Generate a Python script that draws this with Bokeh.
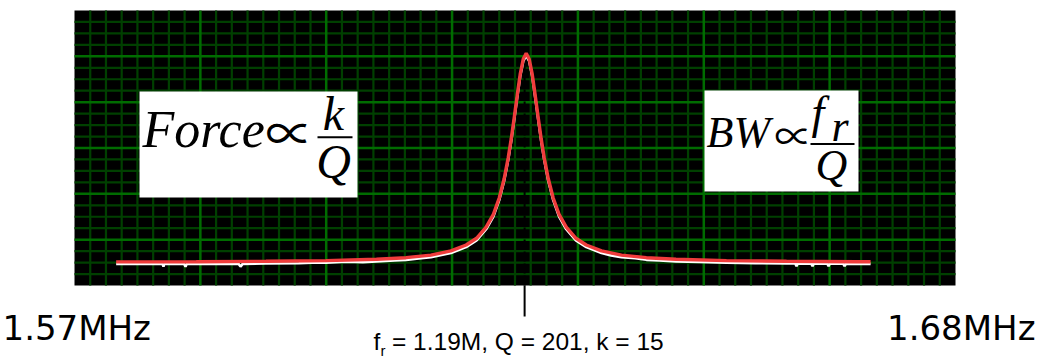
from bokeh.plotting import figure
from bokeh.models import Range1d, Label, BoxAnnotation
from bokeh.embed import file_html
from bokeh.resources import INLINE

# ---------------- data ----------------
# frequency axis in MHz, amplitude in screen divisions (0..6)
fit_freq_mhz = [1.5752, 1.5852, 1.5939, 1.6014, 1.6077, 1.6114, 1.6145, 1.6170, 1.6189,
                1.6202, 1.6214, 1.6223, 1.62303, 1.62365, 1.62415, 1.62453, 1.62490,
                1.62528, 1.62565, 1.62603, 1.6264, 1.62677, 1.62715, 1.62752, 1.62790,
                1.62827, 1.62865, 1.62915, 1.62977, 1.6305, 1.6314, 1.6326, 1.6339,
                1.6358, 1.6383, 1.6414, 1.6451, 1.6514, 1.6589, 1.6676, 1.6694]
fit_amp = [0.515, 0.519, 0.528, 0.543, 0.572, 0.607, 0.663, 0.755, 0.884,
           1.030, 1.274, 1.551, 1.909, 2.335, 2.786, 3.199, 3.663,
           4.154, 4.610, 4.942, 5.066, 4.942, 4.610, 4.154, 3.663,
           3.199, 2.786, 2.335, 1.909, 1.551, 1.274, 1.030, 0.884,
           0.755, 0.663, 0.607, 0.572, 0.543, 0.528, 0.519, 0.519]

meas_freq_mhz = [1.5752, 1.5810, 1.58111, 1.5812, 1.5837, 1.58386, 1.5840, 1.5905, 1.59073,
                 1.5910, 1.5939, 1.5980, 1.6005, 1.6014, 1.6040, 1.6060, 1.6077, 1.6100,
                 1.6114, 1.6130, 1.6145, 1.6170, 1.6189, 1.6202, 1.6214, 1.6223, 1.62303,
                 1.62365, 1.62415, 1.62453, 1.62490, 1.62528, 1.62565, 1.62603, 1.6264,
                 1.62677, 1.62715, 1.62752, 1.62790, 1.62827, 1.62865, 1.62915, 1.62977,
                 1.6305, 1.6314, 1.6326, 1.6339, 1.6358, 1.6370, 1.6383, 1.6400, 1.6414,
                 1.6430, 1.6451, 1.6480, 1.6514, 1.6550, 1.6589, 1.6600, 1.66015, 1.6603,
                 1.6620, 1.66215, 1.6623, 1.6640, 1.66415, 1.6643, 1.6660, 1.66615, 1.6663,
                 1.6676, 1.6694]
meas_amp = [0.468, 0.469, 0.410, 0.469, 0.470, 0.410, 0.470, 0.471, 0.412,
            0.471, 0.480, 0.487, 0.505, 0.496, 0.520, 0.507, 0.525, 0.548,
            0.560, 0.588, 0.616, 0.708, 0.837, 0.983, 1.227, 1.504, 1.862,
            2.288, 2.739, 3.152, 3.616, 4.107, 4.563, 4.895, 5.017,
            4.895, 4.563, 4.107, 3.616, 3.152, 2.739, 2.288, 1.862,
            1.504, 1.227, 0.983, 0.837, 0.708, 0.657, 0.616, 0.597, 0.560,
            0.547, 0.525, 0.512, 0.496, 0.487, 0.481, 0.479, 0.420, 0.479,
            0.477, 0.420, 0.477, 0.475, 0.420, 0.475, 0.473, 0.420, 0.473,
            0.472, 0.472]

peak_freq_mhz = 1.6262
peak_amp = 5.07
x_min_mhz, x_max_mhz = 1.57, 1.68
y_min_div, y_max_div = 0, 6
start_label = "1.57MHz"
end_label = "1.68MHz"
fr_sym, fr_sub, fr_rest = "f", "r", "= 1.19M, Q = 201, k = 15"

# ---------------- layout ----------------
# graticule area on the canvas (pixels); the plot frame covers the whole canvas
G_L, G_T, G_W, G_H = 74, 10, 881, 275
CANVAS_W, CANVAS_H = 1039, 358
xspan = x_max_mhz - x_min_mhz
yspan = y_max_div - y_min_div


def fx(px):
    return x_min_mhz + (px - G_L) * xspan / G_W


def fy(py):
    return y_max_div - (py - G_T) * yspan / G_H


p = figure(width=CANVAS_W, height=CANVAS_H,
           x_range=Range1d(fx(0), fx(CANVAS_W)), y_range=Range1d(fy(CANVAS_H), fy(0)),
           x_axis_location=None, y_axis_location=None, min_border=0,
           output_backend="svg", toolbar_location=None)
p.background_fill_color = "white"
p.border_fill_color = "white"
p.outline_line_color = None
for g in list(p.grid):
    g.visible = False

# black screen of the graticule
p.add_layout(BoxAnnotation(left=x_min_mhz, right=x_max_mhz, bottom=y_min_div, top=y_max_div,
                           fill_color="black", fill_alpha=1, line_color=None, level="image"))

# oscilloscope graticule lines
nx_major, nx_minor = 7, 8
ny_major, ny_minor = 6, 4
xmaj = [x_min_mhz + k * xspan / nx_major for k in range(1, nx_major)]
xmin = [x_min_mhz + j * xspan / (nx_major * nx_minor) for j in range(1, nx_major * nx_minor)
        if j % nx_minor]
ymaj = [y_min_div + k for k in range(1, ny_major)]
ymin = [j / ny_minor for j in range(1, ny_major * ny_minor) if j % ny_minor]

for xs, ys, col, w in ((xmin, ymin, "#004000", 2.2), (xmaj, ymaj, "#006c00", 2.5)):
    p.segment(x0=xs, y0=[y_min_div] * len(xs), x1=xs, y1=[y_max_div] * len(xs),
              line_color=col, line_width=w, level="underlay")
    p.segment(x0=[x_min_mhz] * len(ys), y0=ys, x1=[x_max_mhz] * len(ys), y1=ys,
              line_color=col, line_width=w, level="underlay")

# resonance marker: dashed line in the screen and a tick below it
p.segment(x0=[peak_freq_mhz], y0=[y_min_div], x1=[peak_freq_mhz], y1=[peak_amp],
          line_color="black", line_width=2, line_dash="4 2", level="underlay")
p.segment(x0=[peak_freq_mhz], y0=[y_min_div], x1=[peak_freq_mhz], y1=[fy(316)],
          line_color="black", line_width=2)

# traces
p.line(meas_freq_mhz, meas_amp, line_color="white", line_width=2.6)
p.line(fit_freq_mhz, fit_amp, line_color="#f03c3c", line_width=3.4)

MID = 0.35  # label anchor sits ~0.35 em above the baseline


def text(t, px, baseline, size, font="Liberation Serif", style="italic", align="left"):
    p.add_layout(Label(x=fx(px), y=fy(baseline - MID * size), text=t, text_font=font,
                       text_font_style=style, text_font_size=f"{size}px", text_color="black",
                       text_baseline="alphabetic", text_align=align))


def box(l, r, t, b, color):
    p.add_layout(BoxAnnotation(left=fx(l), right=fx(r), top=fy(t), bottom=fy(b),
                               fill_color=color, fill_alpha=1, line_color=None))


SYM = "Noto Sans CJK JP"

# left formula box: Force ∝ k / Q
box(139, 357, 91, 197, "white")
text("Force", 142, 147, 52)
text("∝", 265, 128.5 + 0.38 * 48, 48, font=SYM, style="normal")
text("k", 333, 130, 48, align="center")
box(317, 352, 135.7, 137.7, "black")
text("Q", 333, 178, 48, align="center")

# right formula box: BW ∝ f_r / Q
box(704, 858, 90, 191, "white")
text("BW", 706, 147, 44)
text("∝", 774, 132 + 0.38 * 38, 38, font=SYM, style="normal")
text("f", 811, 128, 46)
text("r", 831, 141, 44)
box(810, 854, 142.5, 144.5, "black")
text("Q", 831, 180, 44, align="center")

# texts below the screen
SANS = "DejaVu Sans"
NARROW = "Liberation Sans"
text(start_label, 2, 339, 34, font=SANS, style="normal")
text(end_label, 1035, 339, 34, font=SANS, style="normal", align="right")
text(fr_sym, 373, 350, 24.5, font=NARROW, style="normal")
text(fr_sub, 380.0, 355, 15, font=NARROW, style="normal")
text(fr_rest, 391.5, 350, 24.5, font=NARROW, style="normal")

open("out.html", "w").write(file_html(p, INLINE))
